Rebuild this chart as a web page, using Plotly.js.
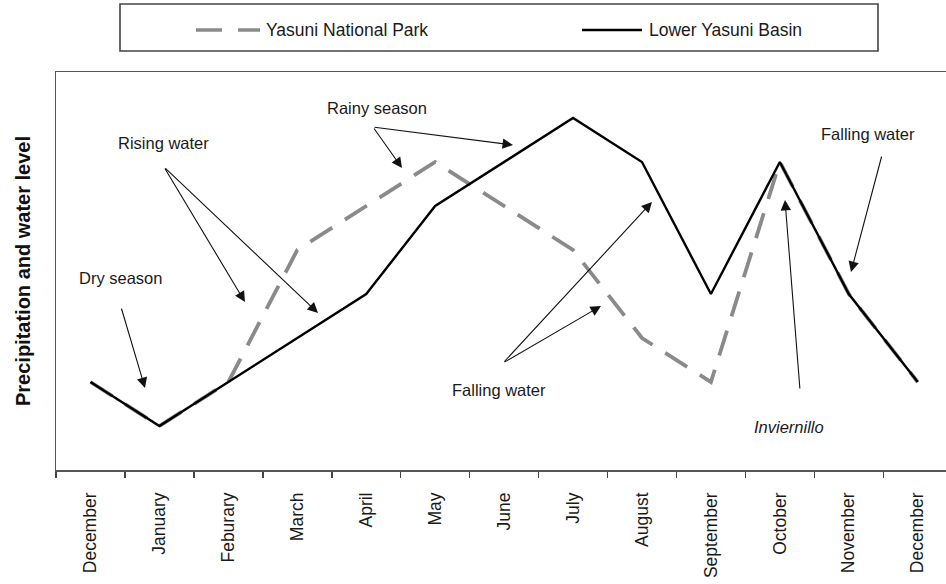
<!DOCTYPE html>
<html>
<head>
<meta charset="utf-8">
<script src="https://cdn.plot.ly/plotly-3.0.1.min.js"></script>
<style>
html,body{margin:0;padding:0;background:#fff;}
#chart{width:946px;height:584px;}
</style>
</head>
<body>
<div id="chart"></div>
<script>
// ---- data ----
const months = ['December','January','Feburary','March','April','May','June','July','August','September','October','November','December'];
const yasuniNationalPark = [2,1,2,5,6,7,6,5,3,2,7,4,2];
const lowerYasuniBasin   = [2,1,2,3,4,6,7,8,7,4,7,4,2];
const seriesNames = ['Yasuni National Park','Lower Yasuni Basin'];
const xIndex = months.map((m,i)=>i);

// ---- layout helpers (pixel -> paper) ----
const L=56, R=946, T=72, B=470;
const px = x => (x-L)/(R-L);
const py = y => (B-y)/(B-T);
const FONT = 'Liberation Sans, Arial, sans-serif';

const labelTexts = ['Dry season','Rising water','Rainy season','Falling water','Falling water','<i>Inviernillo</i>'];
const labelPos = [[120,278],[163,143],[377,108],[499,390],[868,134],[789,427]];
// [tailX, tailY, headX, headY] in pixels
const arrowPos = [
  [121,307,145,388],
  [164,167,245,302],
  [164,167,318,313],
  [373,127,402,168],
  [373,127,513,145],
  [503,363,652,202],
  [503,363,601,306],
  [882,155,851,272],
  [800,390,785,200]
];

const annotations = [];
labelTexts.forEach((t,i)=>{
  annotations.push({xref:'paper',yref:'paper',x:px(labelPos[i][0]),y:py(labelPos[i][1]),
    text:t,showarrow:false,xanchor:'center',yanchor:'middle',
    font:{family:FONT,size:16.5,color:'#1a1a1a'}});
});
arrowPos.forEach(a=>{
  annotations.push({xref:'paper',yref:'paper',x:px(a[2]),y:py(a[3]),
    axref:'pixel',ayref:'pixel',ax:a[0]-a[2],ay:a[1]-a[3],
    text:'',showarrow:true,arrowhead:2,arrowsize:1.9,arrowwidth:1.1,arrowcolor:'#111',
    standoff:0,startstandoff:0});
});
// manual legend texts
annotations.push({xref:'paper',yref:'paper',x:px(264),y:py(30),text:seriesNames[0],showarrow:false,
  xanchor:'left',yanchor:'middle',font:{family:FONT,size:17.5,color:'#1a1a1a'}});
annotations.push({xref:'paper',yref:'paper',x:px(647),y:py(30),text:seriesNames[1],showarrow:false,
  xanchor:'left',yanchor:'middle',font:{family:FONT,size:17.5,color:'#1a1a1a'}});

const shapes = [
  {type:'rect',xref:'paper',yref:'paper',x0:px(120),x1:px(878),y0:py(51),y1:py(4),
   line:{color:'#444',width:1.6},fillcolor:'rgba(0,0,0,0)'},
  {type:'line',xref:'paper',yref:'paper',x0:px(196),x1:px(260),y0:py(30),y1:py(30),
   line:{color:'#8a8a8a',width:3.5,dash:'26px,16px'}},
  {type:'line',xref:'paper',yref:'paper',x0:px(582),x1:px(642),y0:py(30),y1:py(30),
   line:{color:'#000',width:2.4}}
];

const traces = [
  {x:xIndex,y:yasuniNationalPark,name:seriesNames[0],type:'scatter',mode:'lines',
   line:{color:'#8a8a8a',width:3.8,dash:'26px,15px'}},
  {x:xIndex,y:lowerYasuniBasin,name:seriesNames[1],type:'scatter',mode:'lines',
   line:{color:'#000',width:2.4}}
];

const layout = {
  width:946,height:584,
  margin:{l:L,r:946-R,t:T,b:584-B,pad:0},
  paper_bgcolor:'#fff',plot_bgcolor:'#fff',
  showlegend:false,
  font:{family:FONT,color:'#1a1a1a'},
  xaxis:{
    range:[-0.5,12.41],type:'linear',
    tickmode:'array',tickvals:xIndex,ticktext:months,tickangle:-90,
    ticks:'',tickfont:{family:FONT,size:17.5,color:'#1a1a1a'},
    ticklabelstandoff:14,
    minor:{tick0:-0.5,dtick:1,ticks:'outside',ticklen:6,tickwidth:1.5,tickcolor:'#444',showgrid:false},
    showline:true,mirror:true,linecolor:'#555',linewidth:1.5,
    showgrid:false,zeroline:false,fixedrange:true
  },
  yaxis:{
    range:[0,9.045],showticklabels:false,ticks:'',showgrid:false,zeroline:false,
    showline:true,linecolor:'#555',linewidth:1.5,
    title:{text:'<b>Precipitation and water level</b>',font:{family:FONT,size:20,color:'#111'},standoff:18}
  },
  annotations:annotations,
  shapes:shapes
};

Plotly.newPlot('chart',traces,layout,{staticPlot:true,displayModeBar:false});
</script>
</body>
</html>
